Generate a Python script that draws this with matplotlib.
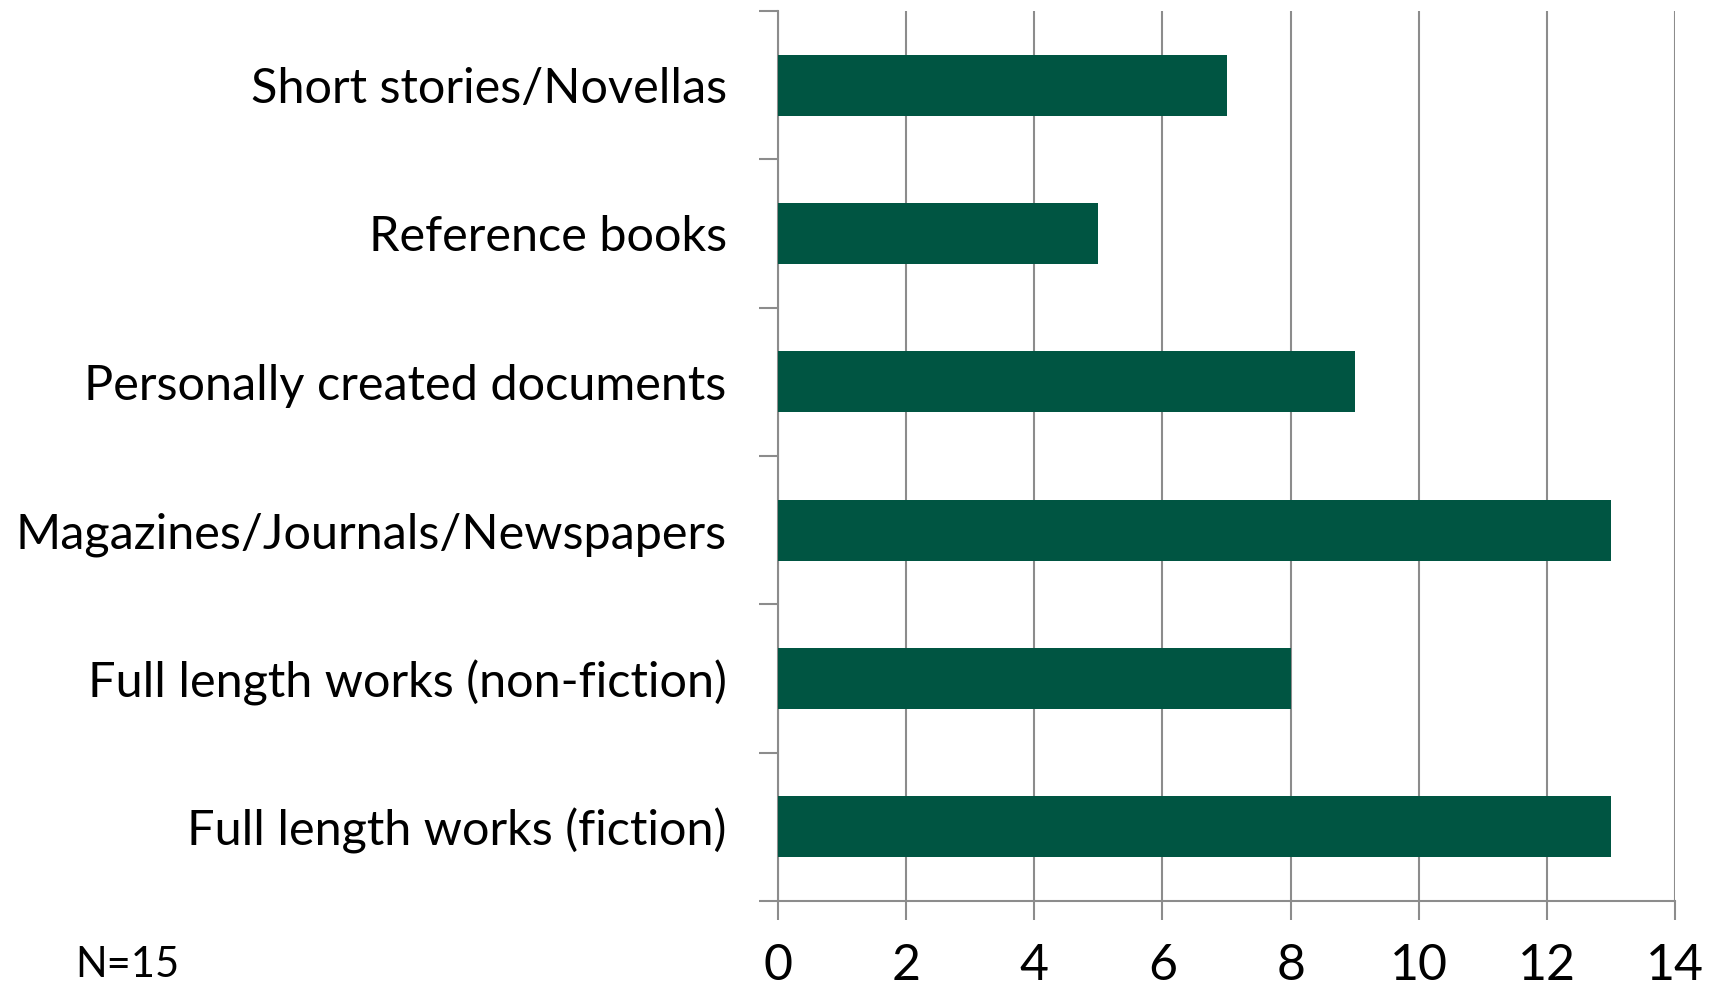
import matplotlib
matplotlib.use("Agg")
import matplotlib.pyplot as plt
import numpy as np

# data, top to bottom as in the chart
categories = ["Short stories/Novellas", "Reference books", "Personally created documents",
              "Magazines/Journals/Newspapers", "Full length works (non-fiction)",
              "Full length works (fiction)"]
counts = [7, 5, 9, 13, 8, 13]
xticks = [0, 2, 4, 6, 8, 10, 12, 14]

plt.rcParams['font.family'] = ['Lato', 'DejaVu Sans']

fig = plt.figure(figsize=(17.19, 9.9), dpi=100)
ax = fig.add_axes([0.4526, 0.0899, 0.9744 - 0.4526, 0.9889 - 0.0899])

y = np.arange(len(categories))[::-1]
ax.barh(y, counts, height=0.41, color="#005542", zorder=3)

ax.set_xlim(0, 14)
ax.set_ylim(-0.5, len(categories) - 0.5)
ax.set_xticks(xticks)
ax.set_xticklabels([str(t) for t in xticks], fontsize=36)
ax.set_yticks(y)
ax.set_yticklabels(categories, fontsize=35)

# category boundary ticks on the y axis, like excel
ax.set_yticks(np.arange(-0.5, len(categories)), minor=True)
ax.tick_params(axis='y', which='major', length=0, pad=37)
ax.tick_params(axis='y', which='minor', length=13.5, width=1.5, color="#8c8c8c")
ax.tick_params(axis='x', which='major', length=13.5, width=1.5, color="#8c8c8c", pad=17)

ax.grid(axis='x', color="#8c8c8c", linewidth=1.5, zorder=0)
for s in ['top', 'right']:
    ax.spines[s].set_visible(False)
for s in ['left', 'bottom']:
    ax.spines[s].set_color("#8c8c8c")
    ax.spines[s].set_linewidth(1.5)

fig.text(75 / 1719, 1 - 965 / 990, "N=15", fontsize=30, va='center', ha='left')

fig.savefig("out.png", dpi=100)
